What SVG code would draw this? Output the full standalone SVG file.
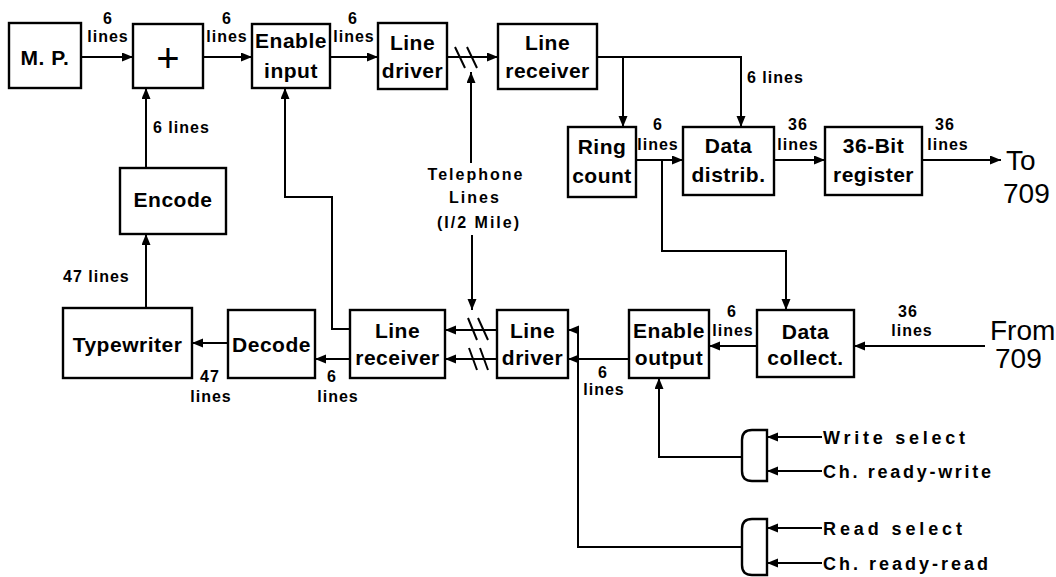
<svg xmlns="http://www.w3.org/2000/svg" width="1056" height="577" viewBox="0 0 1056 577">
<defs>
<marker id="ah" markerUnits="userSpaceOnUse" markerWidth="12" markerHeight="10" refX="11" refY="4.5" orient="auto">
<path d="M0,0 L11,4.5 L0,9 z" fill="#000"/>
</marker>
<style>
.box{fill:#fff;stroke:#000;stroke-width:2.4}
.bt{font-family:"Liberation Sans",Arial,sans-serif;font-size:21px;font-weight:bold;text-anchor:middle;letter-spacing:0.5px}
.ln{fill:none;stroke:#000;stroke-width:2}
.ar{fill:none;stroke:#000;stroke-width:2;marker-end:url(#ah)}
.sl{font-family:"Liberation Sans",Arial,sans-serif;font-size:16px;font-weight:bold;letter-spacing:1px}
.c{text-anchor:middle}
.big{font-family:"Liberation Sans",Arial,sans-serif;font-size:28px}
.sig{font-family:"Liberation Sans",Arial,sans-serif;font-size:18px;font-weight:bold}
.tel{font-family:"Liberation Sans",Arial,sans-serif;font-size:16px;font-weight:bold;text-anchor:middle;letter-spacing:2px}
</style>
</defs>
<rect width="1056" height="577" fill="#fff"/>

<g id="connectors">
<path class="ar" d="M81,57 H133"/>
<path class="ar" d="M203,57 H252"/>
<path class="ar" d="M330,57 H378"/>
<path class="ar" d="M447,57 H498"/>
<path class="ln" d="M455,47 L465,68 M467,47 L477,68"/>
<path class="ar" d="M471,163 V72"/>
<path class="ar" d="M472,235 V310"/>
<path class="ar" d="M597,57 H741 V127"/>
<path class="ar" d="M623,57 V127"/>
<path class="ar" d="M636,160 H683"/>
<path class="ar" d="M662,160 V251 H786 V310"/>
<path class="ar" d="M774,160 H825"/>
<path class="ar" d="M922,160 H1001"/>
<path class="ar" d="M985,346 H854"/>
<path class="ar" d="M757,346 H709"/>
<path class="ar" d="M629,359 H568"/>
<path class="ar" d="M742,547 H578 V330 H568"/>
<path class="ar" d="M497,330 H445"/>
<path class="ar" d="M497,359 H445"/>
<path class="ln" d="M468,318 L477,340 M478,318 L488,340 M469,348 L477,370 M480,348 L488,370"/>
<path class="ar" d="M350,359 H315"/>
<path class="ar" d="M228,343 H192"/>
<path class="ar" d="M146,308 V234"/>
<path class="ar" d="M146,168 V88"/>
<path class="ar" d="M350,329 H332 V197 H285 V88"/>
<path class="ar" d="M742,457 H659 V378"/>
<path class="ar" d="M822,437 H767"/>
<path class="ar" d="M822,471 H767"/>
<path class="ar" d="M822,528 H767"/>
<path class="ar" d="M822,563 H767"/>
</g>

<g id="mp"><rect class="box" x="9" y="23" width="72" height="65"/><text class="bt" x="45" y="65">M. P.</text></g>
<g id="plus"><rect class="box" x="133" y="24" width="70" height="64"/><text x="168" y="72" font-family="Liberation Sans,Arial,sans-serif" font-size="40" text-anchor="middle">+</text></g>
<g id="enable-input"><rect class="box" x="252" y="24" width="78" height="64"/><text class="bt" x="291" y="48">Enable</text><text class="bt" x="291" y="78">input</text></g>
<g id="line-driver-top"><rect class="box" x="378" y="23" width="69" height="66"/><text class="bt" x="412.5" y="50">Line</text><text class="bt" x="412.5" y="78">driver</text></g>
<g id="line-receiver-top"><rect class="box" x="498" y="24" width="99" height="65"/><text class="bt" x="547.5" y="50">Line</text><text class="bt" x="547.5" y="78">receiver</text></g>
<g id="ring-count"><rect class="box" x="568" y="127" width="68" height="70"/><text class="bt" x="602" y="154">Ring</text><text class="bt" x="602" y="183">count</text></g>
<g id="data-distrib"><rect class="box" x="683" y="127" width="91" height="68"/><text class="bt" x="728.5" y="153">Data</text><text class="bt" x="728.5" y="182">distrib.</text></g>
<g id="register"><rect class="box" x="825" y="127" width="97" height="68"/><text class="bt" x="873.5" y="153">36-Bit</text><text class="bt" x="873.5" y="182">register</text></g>
<g id="encode"><rect class="box" x="120" y="168" width="106" height="66"/><text class="bt" x="173" y="207">Encode</text></g>
<g id="typewriter"><rect class="box" x="63" y="308" width="129" height="70"/><text class="bt" x="127.5" y="352" letter-spacing="1.5">Typewriter</text></g>
<g id="decode"><rect class="box" x="228" y="310" width="87" height="68"/><text class="bt" x="271.5" y="352">Decode</text></g>
<g id="line-receiver-bottom"><rect class="box" x="350" y="310" width="95" height="68"/><text class="bt" x="397.5" y="338">Line</text><text class="bt" x="397.5" y="365">receiver</text></g>
<g id="line-driver-bottom"><rect class="box" x="497" y="310" width="71" height="68"/><text class="bt" x="532.5" y="338">Line</text><text class="bt" x="532.5" y="365">driver</text></g>
<g id="enable-output"><rect class="box" x="629" y="310" width="80" height="68"/><text class="bt" x="669" y="338">Enable</text><text class="bt" x="669" y="365">output</text></g>
<g id="data-collect"><rect class="box" x="757" y="310" width="97" height="67"/><text class="bt" x="805.5" y="339">Data</text><text class="bt" x="805.5" y="365">collect.</text></g>
<g id="gate-write"><path class="box" d="M767,430 H752 Q742,430 742,440 V471 Q742,481 752,481 H767 Z"/></g>
<g id="gate-read"><path class="box" d="M767,519 H752 Q742,519 742,529 V565 Q742,575 752,575 H767 Z"/></g>

<g id="labels">
<text class="sl c" x="108" y="24">6</text><text class="sl c" x="108" y="42">lines</text>
<text class="sl c" x="227" y="24">6</text><text class="sl c" x="227" y="42">lines</text>
<text class="sl c" x="353" y="24">6</text><text class="sl c" x="354" y="42">lines</text>
<text class="sl" x="153" y="133">6 lines</text>
<text class="sl" x="747" y="83">6 lines</text>
<text class="sl c" x="658" y="130">6</text><text class="sl c" x="658" y="150">lines</text>
<text class="sl c" x="798" y="130">36</text><text class="sl c" x="798" y="150">lines</text>
<text class="sl c" x="945" y="130">36</text><text class="sl c" x="948" y="150">lines</text>
<text class="sl c" x="908" y="317">36</text><text class="sl c" x="912" y="336">lines</text>
<text class="sl c" x="732" y="317">6</text><text class="sl c" x="733" y="336">lines</text>
<text class="sl c" x="603" y="378">6</text><text class="sl c" x="604" y="395">lines</text>
<text class="sl" x="63" y="282">47 lines</text>
<text class="sl c" x="210" y="382">47</text><text class="sl c" x="211" y="402">lines</text>
<text class="sl c" x="332" y="382">6</text><text class="sl c" x="338" y="402">lines</text>
<text class="tel" x="476" y="180">Telephone</text>
<text class="tel" x="475" y="203">Lines</text>
<text class="tel" x="479" y="228">(I/2 Mile)</text>
<text class="big" x="1006" y="170">To</text>
<text class="big" x="1003" y="203">709</text>
<text class="big" x="990" y="340" font-size="27">From</text>
<text class="big" x="995" y="368" font-size="27">709</text>
<text class="sig" x="823" y="444" textLength="142" lengthAdjust="spacing">Write select</text>
<text class="sig" x="823" y="478" textLength="168" lengthAdjust="spacing">Ch. ready-write</text>
<text class="sig" x="823" y="535" textLength="139" lengthAdjust="spacing">Read select</text>
<text class="sig" x="823" y="570" textLength="165" lengthAdjust="spacing">Ch. ready-read</text>
</g>
</svg>
